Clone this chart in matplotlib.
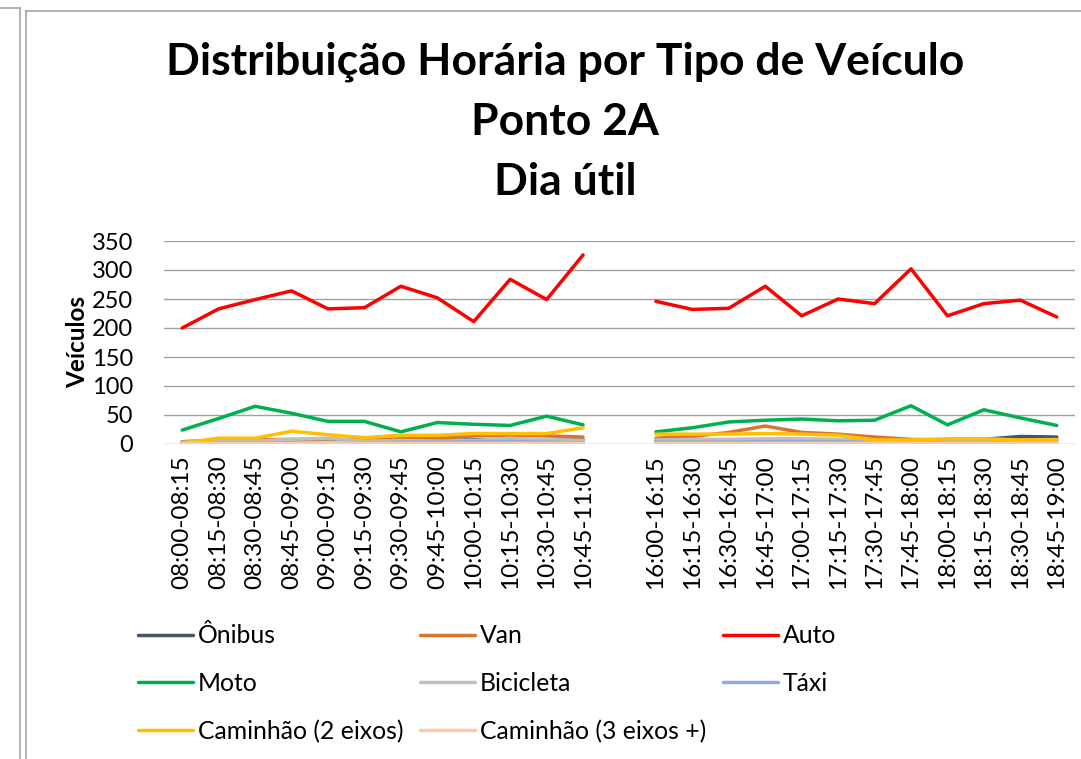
import matplotlib.pyplot as plt
import numpy as np

plt.rcParams['font.family'] = ['Lato', 'DejaVu Sans']

# Time slots (blank slot separates morning and afternoon)
morning = ['08:00-08:15', '08:15-08:30', '08:30-08:45', '08:45-09:00', '09:00-09:15', '09:15-09:30',
           '09:30-09:45', '09:45-10:00', '10:00-10:15', '10:15-10:30', '10:30-10:45', '10:45-11:00']
afternoon = ['16:00-16:15', '16:15-16:30', '16:30-16:45', '16:45-17:00', '17:00-17:15', '17:15-17:30',
             '17:30-17:45', '17:45-18:00', '18:00-18:15', '18:15-18:30', '18:30-18:45', '18:45-19:00']
labels = morning + [''] + afternoon

# Vehicle counts per slot (morning, afternoon)
onibus_am = [4, 6, 7, 6, 8, 6, 7, 6, 7, 8, 6, 7]
onibus_pm = [6, 7, 6, 5, 6, 7, 6, 5, 7, 8, 13, 12]
van_am = [3, 5, 7, 8, 8, 7, 9, 10, 14, 15, 14, 12]
van_pm = [10, 13, 20, 31, 20, 17, 12, 8, 7, 8, 7, 8]
auto_am = [200, 233, 249, 264, 233, 235, 272, 252, 211, 284, 249, 326]
auto_pm = [246, 232, 234, 272, 221, 250, 242, 302, 221, 242, 248, 219]
moto_am = [24, 44, 65, 53, 39, 39, 21, 37, 34, 32, 48, 33]
moto_pm = [21, 28, 38, 41, 43, 40, 41, 66, 33, 59, 45, 32]
bicicleta_am = [3, 6, 5, 8, 10, 5, 6, 5, 6, 10, 7, 6]
bicicleta_pm = [7, 8, 8, 9, 9, 8, 6, 5, 6, 7, 6, 7]
taxi_am = [1, 2, 2, 2, 3, 2, 3, 3, 4, 4, 3, 2]
taxi_pm = [3, 3, 3, 4, 4, 4, 3, 2, 3, 3, 3, 3]
cam2_am = [2, 10, 10, 22, 16, 11, 15, 15, 18, 18, 18, 28]
cam2_pm = [17, 17, 17, 18, 17, 15, 7, 7, 9, 9, 7, 7]
cam3_am = [1, 1, 1, 1, 2, 1, 1, 1, 1, 1, 1, 1]
cam3_pm = [1, 1, 1, 1, 1, 1, 1, 1, 1, 1, 1, 1]

series = [
    ('Ônibus', onibus_am, onibus_pm, '#44546A'),
    ('Van', van_am, van_pm, '#D9742F'),
    ('Auto', auto_am, auto_pm, '#FF0000'),
    ('Moto', moto_am, moto_pm, '#00B050'),
    ('Bicicleta', bicicleta_am, bicicleta_pm, '#BFBFBF'),
    ('Táxi', taxi_am, taxi_pm, '#8FAADC'),
    ('Caminhão (2 eixos)', cam2_am, cam2_pm, '#FFC000'),
    ('Caminhão (3 eixos +)', cam3_am, cam3_pm, '#F8CBAD'),
]

W, H = 1081, 759
fig = plt.figure(figsize=(W / 100, H / 100), dpi=100)

# chart frame and neighbouring frame edge
fig.add_artist(plt.Line2D([0, 20 / W], [1 - 8 / H, 1 - 8 / H], color='#A6A6A6', lw=1.2))
fig.add_artist(plt.Line2D([20 / W, 20 / W], [0, 1 - 8 / H], color='#A6A6A6', lw=1.2))
fig.add_artist(plt.Line2D([26 / W, 1], [1 - 11 / H, 1 - 11 / H], color='#A6A6A6', lw=1.2))
fig.add_artist(plt.Line2D([26 / W, 26 / W], [0, 1 - 11 / H], color='#A6A6A6', lw=1.2))

ax = fig.add_axes([164 / W, 1 - 444 / H, 911 / W, 203 / H])
x = np.arange(len(labels))
handles = []
for name, am, pm, color in series:
    y = np.array(am + [np.nan] + pm, dtype=float)
    h, = ax.plot(x, y, color=color, lw=2.5, label=name, solid_capstyle='round')
    handles.append(h)

ax.set_xlim(-0.5, len(labels) - 0.5)
ax.set_ylim(0, 350)
ax.set_yticks(range(0, 351, 50))
ax.set_xticks(x)
ax.set_xticklabels(labels, rotation=90, fontsize=17.5)
ax.tick_params(axis='y', labelsize=17, length=0, pad=22)
ax.tick_params(axis='x', length=0, pad=8)
ax.grid(axis='y', color='#A0A0A0', lw=1)
ax.set_axisbelow(True)
for s in ax.spines.values():
    s.set_visible(False)
ax.set_ylabel('Veículos', fontsize=17.5, fontweight='bold', labelpad=2)

# three-line title
for text, yc in [('Distribuição Horária por Tipo de Veículo', 62),
                 ('Ponto 2A', 122), ('Dia útil', 182)]:
    fig.text(565 / W, 1 - yc / H, text, ha='center', va='center',
             fontsize=32, fontweight='bold')

# row-major order across three columns
order = [0, 3, 6, 1, 4, 7, 2, 5]
fig.legend([handles[i] for i in order], [series[i][0] for i in order],
           ncol=3, loc='upper left', bbox_to_anchor=(116 / W, 1 - 602 / H),
           frameon=False, fontsize=17.8, handlelength=2.2, handletextpad=0.2,
           columnspacing=0.7, labelspacing=1.0)

fig.savefig('out.png', dpi=100)
